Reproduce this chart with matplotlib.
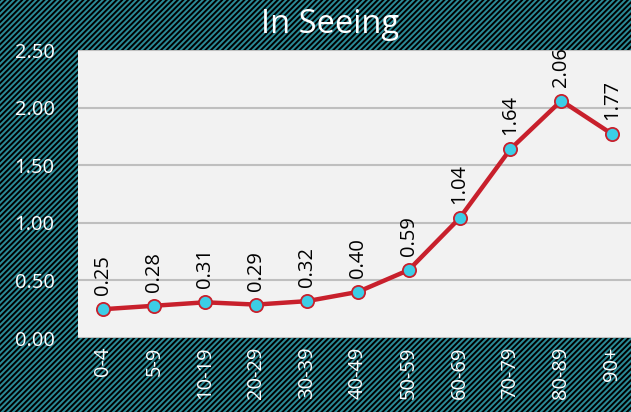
import matplotlib
matplotlib.use("Agg")
import matplotlib.pyplot as plt
from matplotlib.patches import Rectangle

categories = ["0-4", "5-9", "10-19", "20-29", "30-39", "40-49", "50-59", "60-69", "70-79", "80-89", "90+"]
values = [0.25, 0.28, 0.31, 0.29, 0.32, 0.40, 0.59, 1.04, 1.64, 2.06, 1.77]
yticks = [0.0, 0.5, 1.0, 1.5, 2.0, 2.5]

plt.rcParams['font.family'] = ['Open Sans', 'DejaVu Sans']
plt.rcParams['hatch.linewidth'] = 1.4
plt.rcParams['hatch.color'] = '#000000'

fig = plt.figure(figsize=(6.31, 4.12), dpi=100)
fig.patch.set_facecolor('#2a8a96')
bg = Rectangle((0, 0), 1, 1, transform=fig.transFigure, facecolor='#2a8a96',
               edgecolor='#000000', hatch='//////', linewidth=0, zorder=-10)
fig.patches.append(bg)

ax = fig.add_axes([0.1236, 0.1796, 0.8764, 0.699])
ax.set_facecolor('#f2f2f2')
x = list(range(len(categories)))
ax.plot(x, values, color='#c8202c', linewidth=3.2, marker='o', markersize=9.5,
        markerfacecolor='#3ccde6', markeredgecolor='#c8202c', markeredgewidth=1.3,
        zorder=3, clip_on=False)
for xi, v in zip(x, values):
    ax.annotate(f"{v:.2f}", (xi, v), xytext=(0, 10), textcoords='offset points',
                rotation=90, ha='center', va='bottom', fontsize=14.5, color='black',
                zorder=4, annotation_clip=False)

ax.set_xlim(-0.5, 10.37)
ax.set_ylim(0, 2.5)
ax.set_yticks(yticks)
ax.set_yticklabels([f"{t:.2f}" for t in yticks])
ax.set_xticks(x)
ax.set_xticklabels(categories, rotation=90)
ax.tick_params(axis='both', colors='white', labelsize=14.5, length=0)
ax.tick_params(axis='x', pad=6)
ax.tick_params(axis='y', pad=17)
ax.grid(axis='y', color='#bfbfbf', linewidth=1.5)
ax.set_axisbelow(True)
for s in ax.spines.values():
    s.set_visible(False)

fig.text(0.523, 0.94, "In Seeing", color='white', fontsize=23.5, ha='center', va='center')

fig.savefig("out.png", dpi=100, facecolor=fig.get_facecolor())
